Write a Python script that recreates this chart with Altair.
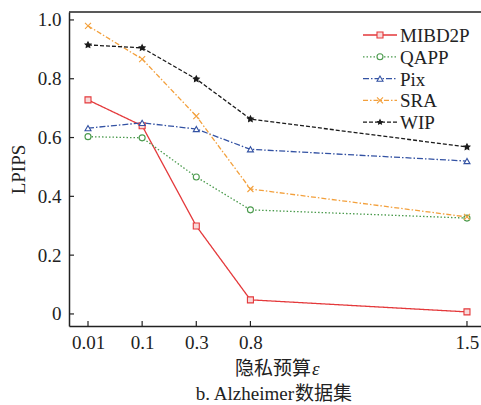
import altair as alt
import pandas as pd

# ---- data ----
eps_labels = ["0.01", "0.1", "0.3", "0.8", "1.5"]
eps_slot = [0, 1, 2, 3, 7]          # position of each budget on the axis
series = ["MIBD2P", "QAPP", "Pix", "SRA", "WIP"]
mibd2p = [0.728, 0.640, 0.299, 0.048, 0.007]
qapp = [0.603, 0.599, 0.466, 0.354, 0.326]
pix = [0.632, 0.650, 0.629, 0.560, 0.520]
sra = [0.980, 0.867, 0.673, 0.425, 0.330]
wip = [0.915, 0.905, 0.799, 0.663, 0.568]
y_ticks = [0, 0.2, 0.4, 0.6, 0.8, 1.0]

values = {"MIBD2P": mibd2p, "QAPP": qapp, "Pix": pix, "SRA": sra, "WIP": wip}

# ---- styles ----
colors = ["#e4393b", "#4a9a4c", "#3352a3", "#f3a03c", "#1a1a1a"]
fills = ["#f8dada", "#ffffff", "#ffffff", "#ffffff", "#1a1a1a"]
dashes = [[1, 0], [1.5, 2], [6, 2, 1.5, 2], [5, 2, 1.5, 2], [4, 2]]
star = "M0,-1L0.29,-0.4L0.95,-0.31L0.48,0.15L0.59,0.81L0,0.5L-0.59,0.81L-0.48,0.15L-0.95,-0.31L-0.29,-0.4Z"
shapes = ["square", "circle", "triangle-up", "M-1,-1L1,1M-1,1L1,-1", star]
sizes = [36, 36, 36, 36, 22]

W, H = 412, 314
FONT = "Liberation Serif, Times New Roman, serif"
CJK = "Noto Sans CJK SC"
FS = 19

rows = []
for s in series:
    for lab, pos, v in zip(eps_labels, eps_slot, values[s]):
        rows.append({"series": s, "eps": lab, "pos": pos, "lpips": v})
df = pd.DataFrame(rows)

label_map = "{" + ",".join(f"'{p}':'{l}'" for p, l in zip(eps_slot, eps_labels)) + "}"

xscale = alt.Scale(domain=[-0.351, 7.259], nice=False, zero=False)
yscale = alt.Scale(domain=[-0.041, 1.027], nice=False, zero=False)
cscale = alt.Scale(domain=series, range=colors)

base = alt.Chart(df)

lines = base.mark_line(strokeWidth=1.3).encode(
    x=alt.X("pos:Q", scale=xscale,
            axis=alt.Axis(values=eps_slot, labelExpr=f"{label_map}[datum.value]",
                          title=None, ticks=False, grid=False, labelPadding=7)),
    y=alt.Y("lpips:Q", scale=yscale,
            axis=alt.Axis(values=y_ticks,
                          labelExpr="datum.value == 0 ? '0' : format(datum.value, '.1f')",
                          title="LPIPS", ticks=False, grid=False,
                          labelPadding=8, titlePadding=9)),
    color=alt.Color("series:N", scale=cscale, legend=None),
    strokeDash=alt.StrokeDash("series:N", scale=alt.Scale(domain=series, range=dashes), legend=None),
    detail="series:N",
)

points = base.mark_point(strokeWidth=1.1, opacity=1, fillOpacity=1).encode(
    x=alt.X("pos:Q", scale=xscale),
    y=alt.Y("lpips:Q", scale=yscale),
    stroke=alt.Stroke("series:N", scale=cscale, legend=None),
    fill=alt.Fill("series:N", scale=alt.Scale(domain=series, range=fills), legend=None),
    shape=alt.Shape("series:N", scale=alt.Scale(domain=series, range=shapes), legend=None),
    size=alt.Size("series:N", scale=alt.Scale(domain=series, range=sizes), legend=None),
)

# inward ticks
yt = alt.Chart(pd.DataFrame({"v": y_ticks})).mark_rule(color="#222", strokeWidth=1.2).encode(
    y=alt.Y("v:Q", scale=yscale), x=alt.value(0), x2=alt.value(5))
xt = alt.Chart(pd.DataFrame({"p": eps_slot})).mark_rule(color="#222", strokeWidth=1.2).encode(
    x=alt.X("p:Q", scale=xscale), y=alt.value(H), y2=alt.value(H - 5))
top = alt.Chart(pd.DataFrame({"a": [0]})).mark_rule(color="#222", strokeWidth=1.5).encode(
    y=alt.value(0), x=alt.value(0), x2=alt.value(W + 5))

one = pd.DataFrame({"a": [0]})


def txt(s, x, y, align, font, size, style="normal"):
    return alt.Chart(one).mark_text(align=align, baseline="middle", font=font, fontSize=size,
                                    fontStyle=style, color="#222").encode(
        x=alt.value(x), y=alt.value(y), text=alt.value(s))


# axis title and caption (mixed fonts)
texts = [
    txt("隐私预算", 242, 357, "right", CJK, 19),
    txt("ε", 243, 357, "left", FONT, FS, "italic"),
    txt("b. Alzheimer", 225, 382, "right", FONT, FS),
    txt("数据集", 226, 382, "left", CJK, 19),
]

# manual legend
leg_layers = []
for i, s in enumerate(series):
    yy = 23 + 21.8 * i
    leg_layers.append(alt.Chart(one).mark_rule(color=colors[i], strokeWidth=1.3,
                                               strokeDash=dashes[i]).encode(
        x=alt.value(294), x2=alt.value(328), y=alt.value(yy)))
    leg_layers.append(alt.Chart(one).mark_point(stroke=colors[i], fill=fills[i], fillOpacity=1,
                                                strokeWidth=1.1, shape=shapes[i], size=sizes[i],
                                                opacity=1).encode(
        x=alt.value(311), y=alt.value(yy)))
    leg_layers.append(txt(s, 331, yy + 1, "left", FONT, FS))

chart = alt.layer(yt, xt, top, lines, points, *texts, *leg_layers).properties(
    width=W, height=H,
    background="white",
    autosize=alt.AutoSizeParams(type="none"),
    padding={"left": 69, "top": 12, "right": 0, "bottom": 79},
).configure_view(stroke=None).configure_axis(
    domainColor="#222", domainWidth=1.5, labelFont=FONT, titleFont=FONT,
    labelFontSize=FS, titleFontSize=FS, labelColor="#222", titleColor="#222",
    titleFontWeight="normal",
)

chart.save("out.html", embed_options={"renderer": "svg", "actions": False})
